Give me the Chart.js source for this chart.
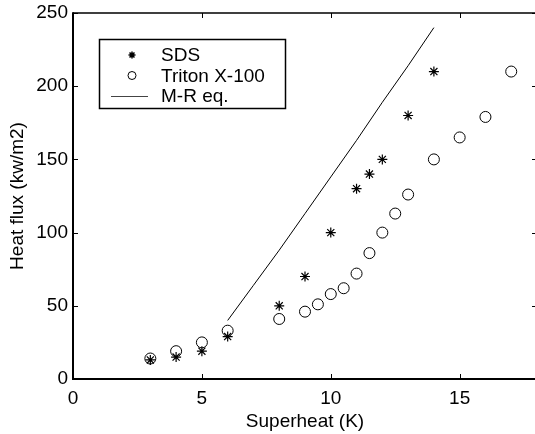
<!DOCTYPE html>
<html>
<head>
<meta charset="utf-8">
<script src="https://cdn.jsdelivr.net/npm/chart.js@4"></script>
<style>
  html, body { margin: 0; padding: 0; background: #fff; overflow: hidden; width: 535px; height: 434px; }
  #wrap { width: 537px; height: 434px; }
</style>
</head>
<body>
<div id="wrap"><canvas id="heatChart"></canvas></div>
<script>
'use strict';

/* --------------------------------------------------------------------------
   DATA
   -------------------------------------------------------------------------- */
const sdsX = [3, 4, 5, 6, 8, 9, 10, 11, 11.5, 12, 13, 14];
const sdsY = [13, 15, 19, 29, 50, 70, 100, 130, 140, 150, 180, 210];

const tritonX = [3, 4, 5, 6, 8, 9, 9.5, 10, 10.5, 11, 11.5, 12, 12.5, 13, 14, 15, 16, 17];
const tritonY = [14, 19, 25, 33, 41, 46, 51, 58, 62, 72, 86, 100, 113, 126, 150, 165, 179, 210];

const mrX = [6, 7, 8, 9, 10, 11, 12, 13, 14];
const mrY = [40, 64, 88, 113, 138, 163, 189, 214, 240];

const xTicks = [0, 5, 10, 15];
const yTicks = [0, 50, 100, 150, 200, 250];

const legendLabels = ['SDS', 'Triton X-100', 'M-R eq.'];

const FONT = '"Liberation Sans", Arial, Helvetica, sans-serif';

const toPoints = (xs, ys) => xs.map((x, i) => ({ x, y: ys[i] }));

/* --------------------------------------------------------------------------
   FRAME + INSIDE TICKS + BOXED LEGEND (MATLAB look)
   -------------------------------------------------------------------------- */
const matlabFrame = {
    id: 'matlabFrame',
    afterDraw(chart) {
        const { ctx, chartArea: a, scales } = chart;
        const tl = 5;
        ctx.save();
        ctx.strokeStyle = '#000';

        // box
        ctx.lineWidth = 1.5;
        ctx.beginPath();
        ctx.moveTo(a.left, a.top); ctx.lineTo(a.right, a.top);
        ctx.moveTo(a.right, a.top); ctx.lineTo(a.right, a.bottom);
        ctx.stroke();
        ctx.lineWidth = 2;
        ctx.beginPath();
        ctx.moveTo(a.left, a.top - 0.75); ctx.lineTo(a.left, a.bottom);
        ctx.lineTo(a.right, a.bottom);
        ctx.stroke();

        // inside ticks
        ctx.lineWidth = 1;
        ctx.beginPath();
        xTicks.forEach(v => {
            const px = Math.round(scales.x.getPixelForValue(v)) + 0.5;
            ctx.moveTo(px, a.bottom); ctx.lineTo(px, a.bottom - tl);
            ctx.moveTo(px, a.top); ctx.lineTo(px, a.top + tl);
        });
        yTicks.forEach(v => {
            const py = Math.round(scales.y.getPixelForValue(v)) + 0.5;
            ctx.moveTo(a.left, py); ctx.lineTo(a.left + tl, py);
            ctx.moveTo(a.right, py); ctx.lineTo(a.right - tl, py);
        });
        ctx.stroke();

        // legend
        const bx = 99.5, by = 39.5, bw = 186, bh = 69;
        ctx.fillStyle = '#fff';
        ctx.fillRect(bx, by, bw, bh);
        ctx.lineWidth = 1.5;
        ctx.strokeRect(bx, by, bw, bh);

        const rows = [55, 75.5, 96];
        const mx = 132;
        Chart.helpers.drawPoint(ctx, { pointStyle: 'star', radius: 3.5, borderWidth: 1 }, mx, rows[0]);
        ctx.beginPath();
        ctx.lineWidth = 1;
        ctx.arc(mx, rows[1], 4, 0, Math.PI * 2);
        ctx.stroke();
        ctx.beginPath();
        ctx.strokeStyle = '#444';
        ctx.moveTo(111, rows[2] + 0.5); ctx.lineTo(148, rows[2] + 0.5);
        ctx.stroke();

        ctx.fillStyle = '#000';
        ctx.font = '19px ' + FONT;
        ctx.textBaseline = 'middle';
        ctx.textAlign = 'left';
        legendLabels.forEach((t, i) => ctx.fillText(t, 161, rows[i] + 1));
        ctx.restore();
    },
};

/* --------------------------------------------------------------------------
   CHART
   -------------------------------------------------------------------------- */
function renderHeatFluxChart() {
    const ctx = document.getElementById('heatChart').getContext('2d');
    new Chart(ctx, {
        type: 'scatter',
        data: {
            datasets: [
                { label: legendLabels[0], data: toPoints(sdsX, sdsY), pointStyle: 'star', pointRadius: 5, borderColor: '#000', backgroundColor: '#000', borderWidth: 1.2, showLine: false },
                { label: legendLabels[1], data: toPoints(tritonX, tritonY), pointStyle: 'circle', pointRadius: 5.5, borderColor: '#000', backgroundColor: 'rgba(0,0,0,0)', borderWidth: 1, showLine: false },
                { label: legendLabels[2], data: toPoints(mrX, mrY), showLine: true, pointRadius: 0, borderColor: '#000', borderWidth: 1, tension: 0, fill: false },
            ],
        },
        options: {
            responsive: true, maintainAspectRatio: false, animation: false,
            layout: { autoPadding: false, padding: { top: 13, right: 0, bottom: 0, left: 0 } },
            plugins: { legend: { display: false }, tooltip: { enabled: false } },
            scales: {
                x: {
                    type: 'linear', min: 0, max: 18,
                    afterFit: s => { s.height = 55; s.paddingLeft = 0; s.paddingRight = 0; },
                    afterBuildTicks: s => { s.ticks = xTicks.map(v => ({ value: v })); },
                    grid: { display: false, drawTicks: false },
                    border: { display: false },
                    ticks: { color: '#000', font: { family: FONT, size: 19 }, padding: 8, maxRotation: 0 },
                    title: { display: true, text: 'Superheat (K)', color: '#000', font: { family: FONT, size: 19 }, padding: { top: 0, bottom: 1 } },
                },
                y: {
                    type: 'linear', min: 0, max: 250,
                    afterFit: s => { s.width = 73; s.paddingTop = 0; s.paddingBottom = 0; },
                    afterBuildTicks: s => { s.ticks = yTicks.map(v => ({ value: v })); },
                    grid: { display: false, drawTicks: false },
                    border: { display: false },
                    ticks: { color: '#000', font: { family: FONT, size: 19 }, padding: 5 },
                    title: { display: true, text: 'Heat flux (kw/m2)', color: '#000', font: { family: FONT, size: 19 }, padding: { top: 6, bottom: 0 } },
                },
            },
        },
        plugins: [matlabFrame],
    });
}

renderHeatFluxChart();
</script>
</body>
</html>
